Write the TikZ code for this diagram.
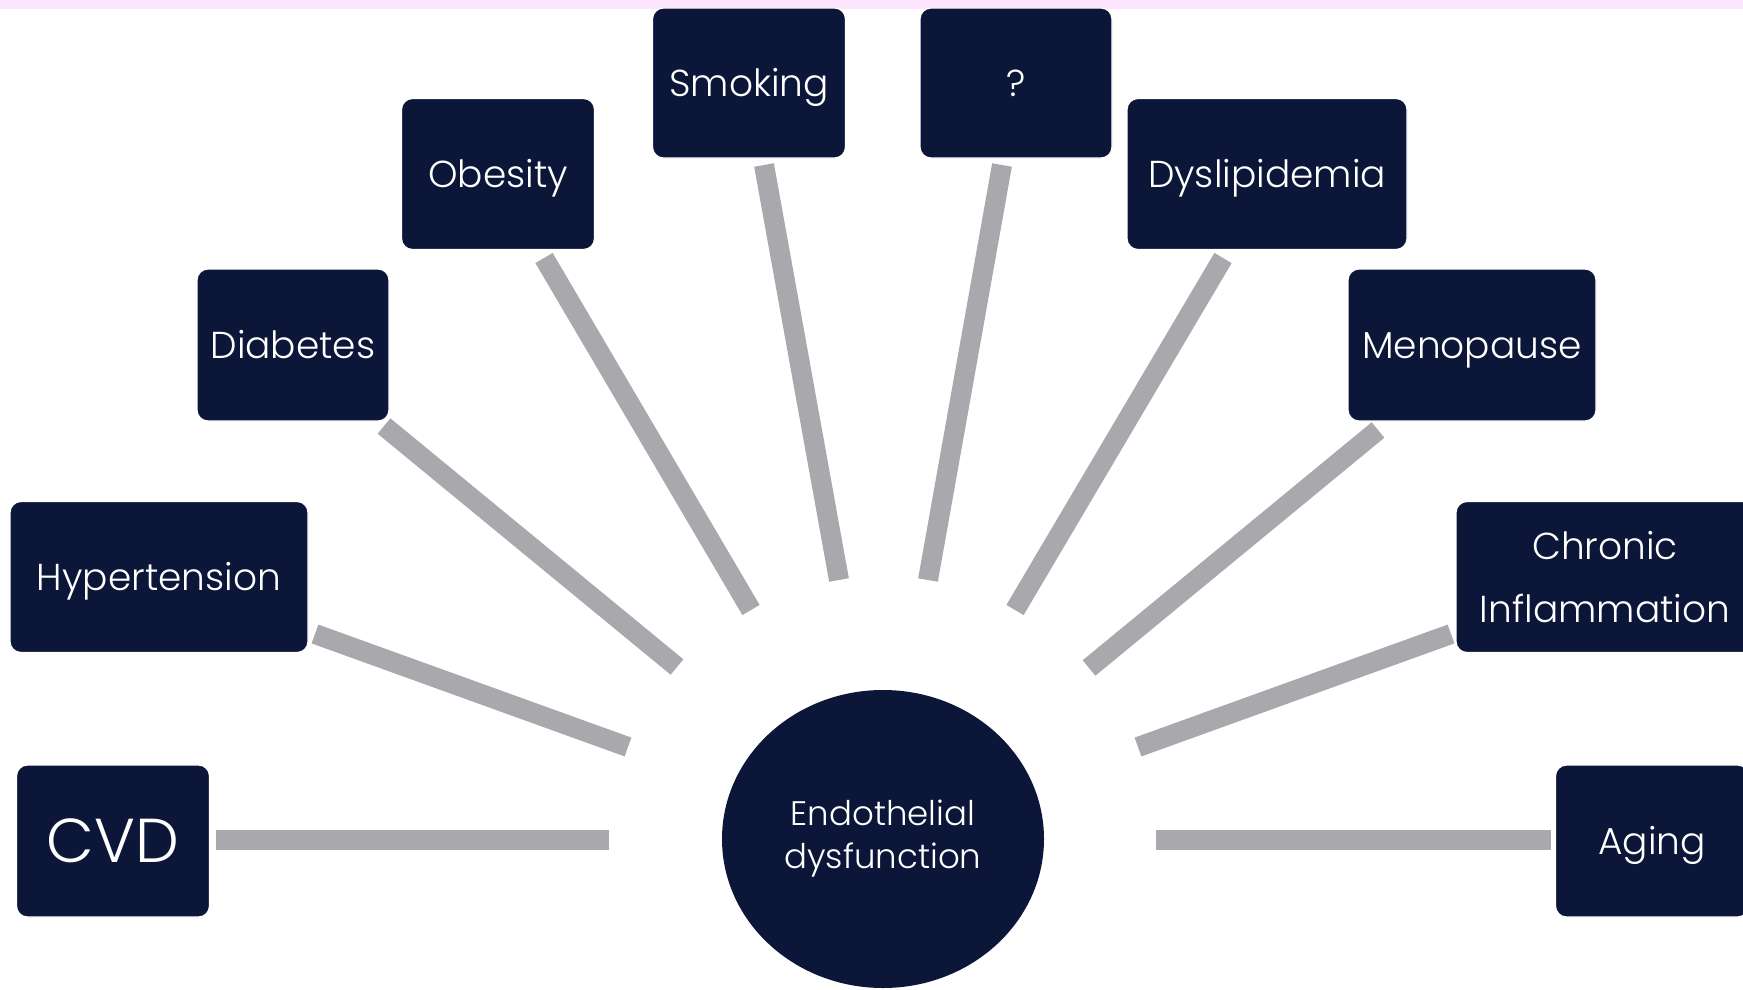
\documentclass[tikz,border=0pt]{standalone}
\usepackage{fontspec}
\setmainfont{Poppins Light}
\usetikzlibrary{shapes.geometric}
\definecolor{navy}{HTML}{0C1638}
\definecolor{conngray}{HTML}{A9A8AD}
\definecolor{bandpink}{HTML}{FDE6FD}
\tikzset{
  factor/.style={fill=navy, draw=white, line width=1.2pt, rounded corners=11pt, text=white,
    align=center, inner sep=0pt, font=\fontsize{37.5}{63}\selectfont},
  oneline/.style={text height=37pt, text depth=10pt},
  conn/.style={draw=conngray, line width=20pt, line cap=butt},
}
\begin{document}
\begin{tikzpicture}[x=1pt,y=-1pt]
\useasboundingbox (0,0) rectangle (1743,990);
\clip (0,0) rectangle (1743,990);
\fill[white] (0,0) rectangle (1743,990);
\fill[bandpink] (0,0) rectangle (1743,9);

% connectors
\coordinate (cvdA) at (216,840); \coordinate (cvdB) at (609,840);
\coordinate (hypA) at (315,634); \coordinate (hypB) at (628,747);
\coordinate (diaA) at (384,426); \coordinate (diaB) at (677,667);
\coordinate (obeA) at (544,258); \coordinate (obeB) at (751,610);
\coordinate (smoA) at (764,165); \coordinate (smoB) at (839,580);
\coordinate (queA) at (1002,165); \coordinate (queB) at (928,580);
\coordinate (dysA) at (1223,258); \coordinate (dysB) at (1015,610);
\coordinate (menA) at (1378,430); \coordinate (menB) at (1089,668);
\coordinate (chrA) at (1451,634); \coordinate (chrB) at (1138,747);
\coordinate (agiA) at (1551,840); \coordinate (agiB) at (1156,840);

\draw[conn] (cvdA) -- (cvdB);
\draw[conn] (hypA) -- (hypB);
\draw[conn] (diaA) -- (diaB);
\draw[conn] (obeA) -- (obeB);
\draw[conn] (smoA) -- (smoB);
\draw[conn] (queA) -- (queB);
\draw[conn] (dysA) -- (dysB);
\draw[conn] (menA) -- (menB);
\draw[conn] (chrA) -- (chrB);
\draw[conn] (agiA) -- (agiB);

% boxes
\node[factor, minimum width=193pt, minimum height=152pt, font=\fontsize{62}{64}\selectfont] (cvd) at (113,841) {CVD};
\node[factor, oneline, minimum width=298pt, minimum height=151pt] (hyp) at (159,577) {Hypertension};
\node[factor, oneline, minimum width=192pt, minimum height=152pt] (dia) at (293,345) {Diabetes};
\node[factor, oneline, minimum width=193pt, minimum height=151pt] (obe) at (498,174) {Obesity};
\node[factor, oneline, minimum width=193pt, minimum height=150pt] (smo) at (749,83) {Smoking};
\node[factor, minimum width=192pt, minimum height=150pt] (que) at (1016,83) {?};
\node[factor, oneline, minimum width=280pt, minimum height=151pt] (dys) at (1267,174) {Dyslipidemia};
\node[factor, oneline, minimum width=248pt, minimum height=152pt] (men) at (1472,345) {Menopause};
\node[factor, minimum width=298pt, minimum height=151pt] (chr) at (1605,577) {Chronic\\Inflammation};
\node[factor, oneline, minimum width=193pt, minimum height=152pt] (agi) at (1652,841) {Aging};

\node[ellipse, fill=navy, text=white, minimum width=322pt, minimum height=298pt, inner sep=0pt,
  align=center, font=\fontsize{34}{43}\selectfont] (endo) at (883,839) {Endothelial\\dysfunction};
\end{tikzpicture}
\end{document}
